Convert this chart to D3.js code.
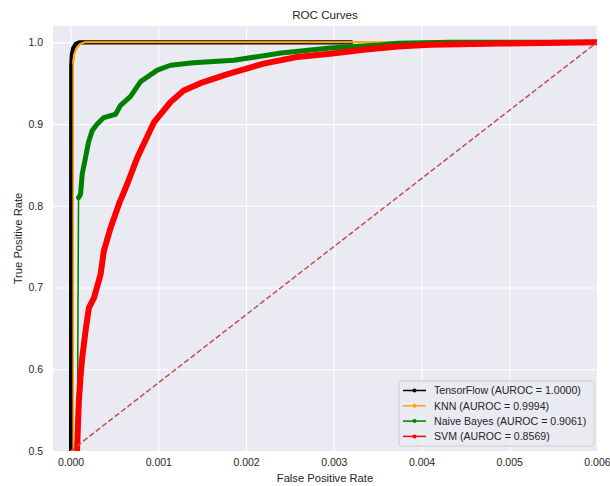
<!DOCTYPE html>
<html>
<head>
<meta charset="utf-8">
<script src="https://cdn.jsdelivr.net/npm/d3@7"></script>
<style>
  body { margin: 0; background: #fff; }
  text { font-family: "Liberation Sans", Arial, sans-serif; fill: #262626; }
</style>
</head>
<body>
<div class="roc-chart"></div>
<script>
// ROC curves
var tfFpr  = [0.000006, 0.000008, 0.000015, 0.00003, 0.00006, 0.0001, 0.0032];
var tfTpr  = [0.5, 0.97, 0.985, 0.993, 0.998, 1.0, 1.0];

var knnFpr = [0.00003, 0.00003, 0.00004, 0.00007, 0.00011, 0.00016, 0.006];
var knnTpr = [0.5, 0.975, 0.985, 0.993, 0.998, 1.0, 1.0];

var nbFpr  = [0.000063, 0.00008, 0.000091, 0.000114, 0.000133, 0.000171, 0.000205, 0.000247, 0.000304,
              0.00038, 0.000513, 0.00057, 0.000684, 0.000798, 0.000989, 0.00114, 0.0014, 0.00186,
              0.0024, 0.00296, 0.00353, 0.00373, 0.00433, 0.006];
var nbTpr  = [0.5, 0.561, 0.81, 0.814, 0.839, 0.859, 0.878, 0.892, 0.9,
              0.908, 0.912, 0.923, 0.934, 0.952, 0.966, 0.972, 0.975, 0.978,
              0.987, 0.993, 0.9967, 0.999, 1.0, 1.0];

var svmFpr = [0.000074, 0.000086, 0.000095, 0.000114, 0.000133, 0.000171, 0.000209, 0.000266, 0.000342,
              0.00038, 0.000456, 0.000551, 0.000647, 0.000761, 0.00095, 0.00114, 0.00129, 0.00148,
              0.00179, 0.0022, 0.00258, 0.00296, 0.00334, 0.00373, 0.0041, 0.0049, 0.006];
var svmTpr = [0.5, 0.536, 0.561, 0.591, 0.614, 0.647, 0.675, 0.687, 0.716,
              0.745, 0.773, 0.802, 0.827, 0.859, 0.902, 0.927, 0.941, 0.95,
              0.961, 0.974, 0.982, 0.986, 0.991, 0.995, 0.997, 0.9985, 1.0];

var modelNames = ["TensorFlow", "KNN", "Naive Bayes", "SVM"];
var aurocs = [1.0000, 0.9994, 0.9061, 0.8569];

// chance line as drawn in the reference
var chanceFpr = [0, 0.006];
var chanceTpr = [0.5, 1.0];

var xTicks = [0, 0.001, 0.002, 0.003, 0.004, 0.005, 0.006];
var yTicks = [0.5, 0.6, 0.7, 0.8, 0.9, 1.0];

var margin = {top: 26, right: 13, bottom: 35, left: 53},
  width = 610 - margin.left - margin.right,
  height = 486 - margin.top - margin.bottom;

var svg = d3.select(".roc-chart")
  .append("svg")
  .attr("width", 610)
  .attr("height", 486);

var g = svg.append("g")
  .attr("transform", "translate(" + margin.left + "," + margin.top + ")");

var x = d3.scaleLinear().domain([-0.0002, 0.006]).range([0, width]);
var y = d3.scaleLinear().domain([0.5, 1.02]).range([height, 0]);

g.append("rect")
  .attr("width", width)
  .attr("height", height)
  .attr("fill", "#eaeaf2");

g.append("clipPath")
  .attr("id", "plot-clip")
  .append("rect")
  .attr("width", width)
  .attr("height", height);

// grid + tick labels through d3 axes
var xAxis = g.append("g")
  .attr("transform", "translate(0," + height + ")")
  .call(d3.axisBottom(x).tickValues(xTicks).tickFormat(d3.format(".3f")).tickSize(-height).tickPadding(8));

var yAxis = g.append("g")
  .call(d3.axisLeft(y).tickValues(yTicks).tickFormat(d3.format(".1f")).tickSize(-width).tickPadding(10));

[xAxis, yAxis].forEach(function(a) {
  a.select(".domain").remove();
  a.selectAll(".tick line").attr("stroke", "#fff").attr("stroke-width", 1.1);
  a.selectAll(".tick text")
    .attr("font-size", "10.5px")
    .attr("fill", "#333")
    .style("font-family", "'Liberation Sans', Arial, sans-serif");
});

var plot = g.append("g").attr("clip-path", "url(#plot-clip)");

function pairs(xs, ys) {
  return xs.map(function(v, i) { return [v, ys[i]]; });
}

var line = d3.line()
  .x(function(d) { return x(d[0]); })
  .y(function(d) { return y(d[1]); });

var series = [
  {name: modelNames[0], pts: pairs(tfFpr, tfTpr), color: "#000000", thick: 4.2, thin: 1.5, from: 0.5},
  {name: modelNames[1], pts: pairs(knnFpr, knnTpr), color: "#ffa500", thick: 2, thin: 1.5, from: 0.97},
  {name: modelNames[2], pts: pairs(nbFpr, nbTpr), color: "#008000", thick: 5, thin: 1.5, from: 0.81},
  {name: modelNames[3], pts: pairs(svmFpr, svmTpr), color: "#ff0000", thick: 6, thin: 1.5, from: 0.5}
];

series.forEach(function(s) {
  plot.append("path")
    .attr("d", line(s.pts))
    .attr("fill", "none")
    .attr("stroke", s.color)
    .attr("stroke-width", s.thin);
  plot.append("path")
    .attr("d", line(s.pts.filter(function(p) { return p[1] >= s.from; })))
    .attr("fill", "none")
    .attr("stroke", s.color)
    .attr("stroke-width", s.thick)
    .attr("stroke-linejoin", "round")
    .attr("stroke-linecap", "round");
});

plot.append("path")
  .attr("d", line(pairs(chanceFpr, chanceTpr)))
  .attr("fill", "none")
  .attr("stroke", "#c44e52")
  .attr("stroke-width", 1.5)
  .attr("stroke-dasharray", "5.5,2.5");

// titles
svg.append("text")
  .attr("x", margin.left + width / 2)
  .attr("y", 19)
  .attr("text-anchor", "middle")
  .attr("font-size", "11.6px")
  .text("ROC Curves");

svg.append("text")
  .attr("x", margin.left + width / 2)
  .attr("y", 482)
  .attr("text-anchor", "middle")
  .attr("font-size", "11.2px")
  .text("False Positive Rate");

svg.append("text")
  .attr("transform", "translate(22," + (margin.top + height / 2) + ") rotate(-90)")
  .attr("text-anchor", "middle")
  .attr("font-size", "11.2px")
  .text("True Positive Rate");

// legend
var leg = g.append("g")
  .attr("transform", "translate(" + (width - 198) + "," + (height - 70) + ")");

leg.append("rect")
  .attr("width", 195)
  .attr("height", 65)
  .attr("rx", 2.5)
  .attr("fill", "#eaeaf2")
  .attr("fill-opacity", 0.8)
  .attr("stroke", "#cccccc")
  .attr("stroke-width", 1);

series.forEach(function(s, i) {
  var row = leg.append("g").attr("transform", "translate(0," + (9.5 + i * 15.3) + ")");
  row.append("line")
    .attr("x1", 4).attr("x2", 27)
    .attr("stroke", s.color).attr("stroke-width", 1.5);
  row.append("circle")
    .attr("cx", 15.5).attr("r", 2)
    .attr("fill", s.color);
  row.append("text")
    .attr("x", 35)
    .attr("dy", "0.35em")
    .attr("font-size", "10.6px")
    .text(s.name + " (AUROC = " + d3.format(".4f")(aurocs[i]) + ")");
});
</script>
</body>
</html>
